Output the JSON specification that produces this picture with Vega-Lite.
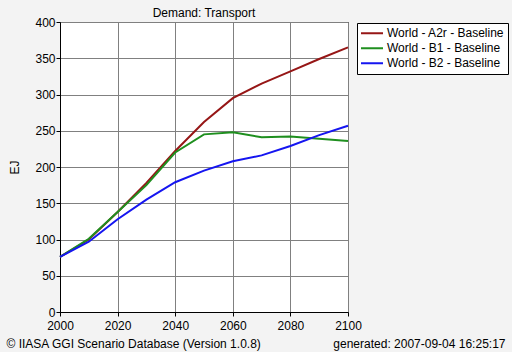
{
  "$schema": "https://vega.github.io/schema/vega-lite/v6.json",
  "width": 288,
  "height": 290,
  "autosize": "none",
  "padding": {"left": 60, "top": 22, "right": 164, "bottom": 40},
  "background": "#f3f3f3",
  "view": {"fill": "white", "stroke": "black", "strokeWidth": 1},
  "config": {"font": "Liberation Sans"},
  "title": {"text": "Demand: Transport", "font": "Liberation Sans", "fontSize": 12, "fontWeight": "normal", "color": "black", "offset": 0, "dy": 4},
  "data": {"values": [
    {"scenario": "World - A2r - Baseline", "year": 2000, "value": 76},
    {"scenario": "World - A2r - Baseline", "year": 2010, "value": 100},
    {"scenario": "World - A2r - Baseline", "year": 2020, "value": 138},
    {"scenario": "World - A2r - Baseline", "year": 2030, "value": 178},
    {"scenario": "World - A2r - Baseline", "year": 2040, "value": 222},
    {"scenario": "World - A2r - Baseline", "year": 2050, "value": 262},
    {"scenario": "World - A2r - Baseline", "year": 2060, "value": 295},
    {"scenario": "World - A2r - Baseline", "year": 2070, "value": 315},
    {"scenario": "World - A2r - Baseline", "year": 2080, "value": 332},
    {"scenario": "World - A2r - Baseline", "year": 2090, "value": 349},
    {"scenario": "World - A2r - Baseline", "year": 2100, "value": 365},
    {"scenario": "World - B1 - Baseline", "year": 2000, "value": 76},
    {"scenario": "World - B1 - Baseline", "year": 2010, "value": 101},
    {"scenario": "World - B1 - Baseline", "year": 2020, "value": 138},
    {"scenario": "World - B1 - Baseline", "year": 2030, "value": 175},
    {"scenario": "World - B1 - Baseline", "year": 2040, "value": 220},
    {"scenario": "World - B1 - Baseline", "year": 2050, "value": 245},
    {"scenario": "World - B1 - Baseline", "year": 2060, "value": 248},
    {"scenario": "World - B1 - Baseline", "year": 2070, "value": 241},
    {"scenario": "World - B1 - Baseline", "year": 2080, "value": 242},
    {"scenario": "World - B1 - Baseline", "year": 2090, "value": 239},
    {"scenario": "World - B1 - Baseline", "year": 2100, "value": 236},
    {"scenario": "World - B2 - Baseline", "year": 2000, "value": 76},
    {"scenario": "World - B2 - Baseline", "year": 2010, "value": 97},
    {"scenario": "World - B2 - Baseline", "year": 2020, "value": 128},
    {"scenario": "World - B2 - Baseline", "year": 2030, "value": 155},
    {"scenario": "World - B2 - Baseline", "year": 2040, "value": 179},
    {"scenario": "World - B2 - Baseline", "year": 2050, "value": 195},
    {"scenario": "World - B2 - Baseline", "year": 2060, "value": 208},
    {"scenario": "World - B2 - Baseline", "year": 2070, "value": 216},
    {"scenario": "World - B2 - Baseline", "year": 2080, "value": 229},
    {"scenario": "World - B2 - Baseline", "year": 2090, "value": 244},
    {"scenario": "World - B2 - Baseline", "year": 2100, "value": 257}
  ]},
  "layer": [
    {
      "mark": {"type": "line", "strokeWidth": 2},
      "encoding": {
        "x": {"field": "year", "type": "quantitative",
          "scale": {"domain": [2000, 2100], "nice": false, "zero": false},
          "axis": {"values": [2000, 2020, 2040, 2060, 2080, 2100], "format": "d",
            "title": "© IIASA GGI Scenario Database (Version 1.0.8)",
            "titleX": -54, "titleY": 35, "titleAlign": "left", "titleBaseline": "alphabetic",
            "titleFontSize": 12, "titleFontWeight": "normal", "titleColor": "black", "titleFont": "Liberation Sans",
            "labelFontSize": 12, "labelColor": "black", "labelFont": "Liberation Sans", "labelPadding": 4,
            "tickSize": 4, "tickColor": "black", "domainColor": "black",
            "gridColor": "#808080", "gridOpacity": 1, "labelFlush": false}
        },
        "y": {"field": "value", "type": "quantitative",
          "scale": {"domain": [0, 400], "nice": false},
          "axis": {"values": [0, 50, 100, 150, 200, 250, 300, 350, 400],
            "title": "EJ", "titleX": -46, "titleY": 145, "titleAngle": -90, "titleBaseline": "middle", "titleAlign": "center",
            "titleFontSize": 12, "titleFontWeight": "normal", "titleColor": "black", "titleFont": "Liberation Sans",
            "labelFontSize": 12, "labelColor": "black", "labelFont": "Liberation Sans", "labelPadding": 1,
            "tickSize": 4, "tickColor": "black", "domainColor": "black",
            "gridColor": "#808080", "gridOpacity": 1}
        },
        "color": {"field": "scenario", "type": "nominal",
          "scale": {"domain": ["World - A2r - Baseline", "World - B1 - Baseline", "World - B2 - Baseline"], "range": ["#961616", "#1f8f1f", "#1515f0"]},
          "legend": {"title": null, "orient": "none", "legendX": 297, "legendY": 1,
            "strokeColor": "black", "fillColor": "white", "padding": 3,
            "symbolType": "stroke", "symbolSize": 484, "symbolStrokeWidth": 2,
            "labelFontSize": 12, "labelColor": "black", "labelFont": "Liberation Sans",
            "labelOffset": 3, "rowPadding": 0, "clipHeight": 14.5}
        }
      }
    },
    {
      "mark": {"type": "line", "opacity": 0},
      "encoding": {
        "x": {"field": "year", "type": "quantitative"},
        "y": {"field": "value", "type": "quantitative",
          "axis": {"orient": "right", "labels": false, "ticks": false, "domain": false, "grid": false,
            "title": "generated: 2007-09-04 16:25:17", "titleAngle": 0, "titleX": 157, "titleY": 325,
            "titleAlign": "right", "titleBaseline": "alphabetic",
            "titleFontSize": 12, "titleFontWeight": "normal", "titleColor": "black", "titleFont": "Liberation Sans"}
        }
      }
    }
  ],
  "resolve": {"axis": {"y": "independent"}}
}
